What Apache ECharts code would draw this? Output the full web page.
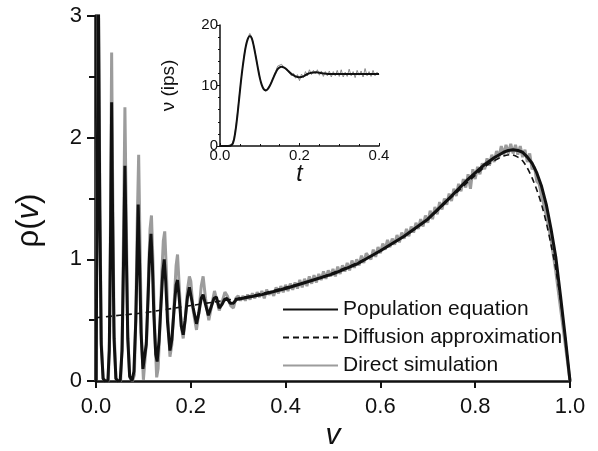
<!DOCTYPE html>
<html>
<head>
<meta charset="utf-8">
<script src="https://cdn.jsdelivr.net/npm/echarts@6/dist/echarts.min.js"></script>
<style>
html, body { margin: 0; padding: 0; background: #fff; }
#chart { width: 598px; height: 451px; }
</style>
</head>
<body>
<div id="chart"></div>
<script>
// main panel: density rho(v)
const populationEq = [
  [0.000, 0.00], [0.002, 1.20], [0.005, 3.20], [0.008, 1.40], [0.011, 0.30], [0.015, 0.02], [0.019, 0.00],
  [0.025, 0.00], [0.028, 0.25], [0.031, 1.30], [0.033, 2.29], [0.035, 1.35], [0.038, 0.35], [0.042, 0.02], [0.046, 0.00],
  [0.051, 0.00], [0.055, 0.25], [0.058, 0.95], [0.061, 1.77], [0.064, 1.05], [0.067, 0.35], [0.071, 0.04], [0.076, 0.00],
  [0.080, 0.08], [0.084, 0.50], [0.087, 1.05], [0.089, 1.45], [0.092, 0.95], [0.095, 0.40], [0.099, 0.10], [0.102, 0.09],
  [0.106, 0.30], [0.110, 0.70], [0.113, 1.05], [0.116, 1.21], [0.119, 0.95], [0.122, 0.55], [0.126, 0.22], [0.129, 0.16],
  [0.133, 0.33], [0.137, 0.62], [0.141, 0.90], [0.144, 1.00], [0.147, 0.82], [0.151, 0.48], [0.156, 0.25], [0.160, 0.34],
  [0.165, 0.60], [0.169, 0.79], [0.172, 0.83], [0.176, 0.66], [0.180, 0.45], [0.184, 0.38], [0.188, 0.50],
  [0.193, 0.69], [0.197, 0.77], [0.200, 0.76], [0.205, 0.60], [0.212, 0.47], [0.217, 0.56], [0.222, 0.68], [0.226, 0.71],
  [0.231, 0.63], [0.237, 0.54], [0.243, 0.61], [0.249, 0.68], [0.254, 0.69], [0.260, 0.60], [0.266, 0.63], [0.271, 0.67],
  [0.276, 0.68], [0.283, 0.64], [0.290, 0.64], [0.296, 0.67], [0.30, 0.67], [0.35, 0.71], [0.40, 0.76], [0.45, 0.82],
  [0.50, 0.88], [0.55, 0.96], [0.60, 1.07], [0.65, 1.19], [0.70, 1.33], [0.75, 1.52], [0.78, 1.64], [0.80, 1.71],
  [0.82, 1.78], [0.84, 1.835], [0.86, 1.88], [0.87, 1.895], [0.88, 1.90], [0.89, 1.895], [0.90, 1.88], [0.91, 1.84],
  [0.92, 1.79], [0.93, 1.71], [0.94, 1.60], [0.95, 1.45], [0.96, 1.25], [0.97, 1.02], [0.98, 0.70], [0.99, 0.36], [1.00, 0.00]
];

const diffusionApprox = [
  [0.00, 0.52], [0.05, 0.54], [0.10, 0.56], [0.15, 0.59], [0.20, 0.62], [0.25, 0.65], [0.30, 0.68], [0.35, 0.72],
  [0.40, 0.77], [0.45, 0.82], [0.50, 0.89], [0.55, 0.97], [0.60, 1.07], [0.65, 1.19], [0.70, 1.33], [0.75, 1.51],
  [0.78, 1.62], [0.80, 1.69], [0.82, 1.76], [0.84, 1.81], [0.86, 1.85], [0.875, 1.86], [0.89, 1.84], [0.90, 1.81],
  [0.91, 1.75], [0.92, 1.67], [0.93, 1.57], [0.94, 1.45], [0.95, 1.30], [0.96, 1.12], [0.97, 0.92], [0.98, 0.66],
  [0.99, 0.36], [1.00, 0.00]
];

const directSim = [
  [0.000, 0.00], [0.002, 1.50], [0.005, 3.30], [0.008, 1.60], [0.011, 0.35], [0.015, 0.02], [0.020, 0.00],
  [0.026, 0.00], [0.029, 0.40], [0.031, 1.60], [0.033, 2.70], [0.035, 1.70], [0.038, 0.45], [0.042, 0.02], [0.047, 0.00],
  [0.052, 0.00], [0.055, 0.30], [0.058, 1.20], [0.061, 2.25], [0.064, 1.30], [0.067, 0.40], [0.071, 0.03], [0.077, 0.00],
  [0.081, 0.05], [0.084, 0.55], [0.087, 1.30], [0.090, 1.86], [0.093, 1.10], [0.096, 0.35], [0.100, 0.01], [0.103, 0.02],
  [0.107, 0.35], [0.111, 0.90], [0.114, 1.25], [0.117, 1.36], [0.120, 1.00], [0.124, 0.40], [0.128, 0.03], [0.131, 0.10],
  [0.135, 0.45], [0.139, 0.90], [0.142, 1.15], [0.145, 1.23], [0.148, 0.95], [0.152, 0.50], [0.156, 0.20], [0.160, 0.30],
  [0.165, 0.65], [0.169, 0.95], [0.172, 1.04], [0.176, 0.75], [0.180, 0.45], [0.184, 0.35], [0.188, 0.50],
  [0.193, 0.75], [0.197, 0.86], [0.200, 0.82], [0.205, 0.58], [0.212, 0.42], [0.217, 0.56], [0.222, 0.78], [0.226, 0.86],
  [0.231, 0.68], [0.238, 0.50], [0.244, 0.62], [0.250, 0.74], [0.254, 0.75], [0.260, 0.58], [0.266, 0.65], [0.272, 0.73],
  [0.277, 0.70], [0.284, 0.62], [0.290, 0.60], [0.295, 0.68], [0.300, 0.70],
  [0.305, 0.66], [0.31, 0.70], [0.315, 0.66], [0.32, 0.71], [0.325, 0.67], [0.33, 0.72], [0.335, 0.68], [0.34, 0.73],
  [0.345, 0.69], [0.35, 0.74], [0.355, 0.68], [0.36, 0.75], [0.365, 0.71], [0.37, 0.74], [0.375, 0.70], [0.38, 0.77],
  [0.385, 0.72], [0.39, 0.78], [0.395, 0.73], [0.40, 0.79], [0.405, 0.74], [0.41, 0.80], [0.415, 0.75], [0.42, 0.81],
  [0.425, 0.76], [0.43, 0.83], [0.435, 0.77], [0.44, 0.84], [0.445, 0.78], [0.45, 0.86], [0.455, 0.80], [0.46, 0.87],
  [0.465, 0.81], [0.47, 0.88], [0.475, 0.83], [0.48, 0.90], [0.485, 0.84], [0.49, 0.91], [0.495, 0.86], [0.50, 0.92],
  [0.505, 0.86], [0.51, 0.94], [0.515, 0.88], [0.52, 0.95], [0.525, 0.90], [0.53, 0.97], [0.535, 0.91], [0.54, 0.99],
  [0.545, 0.93], [0.55, 1.00], [0.555, 0.95], [0.56, 1.03], [0.565, 0.97], [0.57, 1.05], [0.58, 1.00], [0.585, 1.08],
  [0.59, 1.02], [0.595, 1.10], [0.60, 1.05], [0.605, 1.13], [0.61, 1.08], [0.615, 1.16], [0.62, 1.10], [0.625, 1.17],
  [0.63, 1.12], [0.635, 1.20], [0.64, 1.14], [0.645, 1.22], [0.65, 1.17], [0.655, 1.25], [0.66, 1.19], [0.665, 1.27],
  [0.67, 1.22], [0.675, 1.30], [0.68, 1.25], [0.685, 1.33], [0.69, 1.27], [0.695, 1.36], [0.70, 1.30], [0.705, 1.40],
  [0.71, 1.33], [0.715, 1.43], [0.72, 1.37], [0.725, 1.47], [0.73, 1.41], [0.735, 1.50], [0.74, 1.45], [0.745, 1.54],
  [0.75, 1.48], [0.755, 1.58], [0.76, 1.52], [0.765, 1.62], [0.77, 1.56], [0.775, 1.66], [0.78, 1.59], [0.785, 1.70],
  [0.79, 1.58], [0.795, 1.74], [0.80, 1.66], [0.805, 1.76], [0.81, 1.70], [0.815, 1.79], [0.82, 1.74], [0.825, 1.83],
  [0.83, 1.77], [0.835, 1.86], [0.84, 1.80], [0.845, 1.89], [0.85, 1.84], [0.855, 1.93], [0.86, 1.86], [0.865, 1.94],
  [0.87, 1.87], [0.875, 1.95], [0.88, 1.87], [0.885, 1.94], [0.89, 1.86], [0.895, 1.93], [0.90, 1.84], [0.905, 1.90],
  [0.91, 1.80], [0.915, 1.87], [0.92, 1.74], [0.925, 1.76], [0.93, 1.64], [0.935, 1.62], [0.94, 1.52], [0.945, 1.45],
  [0.95, 1.36], [0.955, 1.27], [0.96, 1.16], [0.97, 0.90], [0.98, 0.60], [0.99, 0.30], [1.00, 0.00]
];

// inset: firing rate nu(t)
const insetPopulation = [
  [0.000, 0.0], [0.020, 0.0], [0.030, 0.2], [0.035, 1.0], [0.040, 3.0], [0.045, 5.8], [0.050, 9.0], [0.055, 12.0],
  [0.060, 14.5], [0.065, 16.5], [0.070, 17.7], [0.075, 18.2], [0.080, 17.8], [0.085, 16.5], [0.090, 14.8], [0.095, 13.0],
  [0.100, 11.3], [0.105, 10.1], [0.110, 9.4], [0.115, 9.2], [0.120, 9.4], [0.125, 9.9], [0.130, 10.6], [0.135, 11.4],
  [0.140, 12.1], [0.145, 12.7], [0.150, 13.0], [0.155, 13.1], [0.160, 13.0], [0.165, 12.8], [0.170, 12.5], [0.175, 12.2],
  [0.180, 11.9], [0.185, 11.7], [0.190, 11.5], [0.195, 11.4], [0.200, 11.35], [0.210, 11.5], [0.220, 11.9], [0.230, 12.1],
  [0.240, 12.2], [0.250, 12.1], [0.260, 12.0], [0.280, 11.9], [0.300, 11.9], [0.330, 11.9], [0.360, 11.9], [0.400, 11.9]
];

const insetSimulation = [
  [0.000, 0.0], [0.020, 0.0], [0.030, 0.3], [0.035, 1.2], [0.040, 3.2], [0.045, 6.0], [0.050, 9.2], [0.055, 12.0],
  [0.060, 14.7], [0.065, 16.6], [0.070, 17.9], [0.075, 18.6], [0.080, 17.9], [0.085, 16.6], [0.090, 14.9], [0.095, 13.0],
  [0.100, 11.4], [0.105, 10.0], [0.110, 9.4], [0.115, 9.0], [0.120, 9.5], [0.125, 10.0], [0.130, 10.7], [0.135, 11.5],
  [0.140, 12.3], [0.145, 13.2], [0.150, 13.3], [0.155, 13.5], [0.160, 13.1], [0.165, 13.0], [0.170, 12.4], [0.175, 12.3],
  [0.180, 11.6], [0.185, 12.0], [0.190, 11.2], [0.195, 11.8], [0.200, 10.8], [0.205, 11.9], [0.210, 11.3], [0.215, 12.3],
  [0.220, 11.6], [0.225, 12.6], [0.230, 11.8], [0.235, 12.5], [0.240, 11.9], [0.245, 12.6], [0.250, 11.7], [0.255, 12.4],
  [0.260, 11.5], [0.265, 12.3], [0.270, 11.6], [0.275, 12.4], [0.280, 11.4], [0.285, 12.3], [0.290, 11.6], [0.295, 12.5],
  [0.300, 11.5], [0.305, 12.6], [0.310, 11.4], [0.315, 12.2], [0.320, 11.5], [0.325, 12.7], [0.330, 11.6], [0.335, 12.3],
  [0.340, 11.3], [0.345, 12.5], [0.350, 11.7], [0.355, 12.4], [0.360, 11.4], [0.365, 12.8], [0.370, 11.6], [0.375, 12.3],
  [0.380, 11.5], [0.385, 12.5], [0.390, 11.6], [0.395, 12.2], [0.400, 11.8]
];

const legendNames = ['Population equation', 'Diffusion approximation', 'Direct simulation'];

const font = 'Liberation Sans, Arial, sans-serif';
const ink = '#111';
const grey = '#9c9c9c';

const chart = echarts.init(document.getElementById('chart'));
chart.setOption({
  animation: false,
  backgroundColor: '#fff',
  textStyle: { fontFamily: font, color: ink },
  legend: {
    data: legendNames,
    orient: 'vertical',
    left: 282,
    top: 299,
    padding: 0,
    itemWidth: 55,
    itemHeight: 14,
    itemGap: 7,
    // hide the marker dot, keep only the line sample
    itemStyle: { color: 'transparent', borderColor: 'transparent', opacity: 0 },
    textStyle: { fontSize: 21, color: ink, fontFamily: font },
    selectedMode: false
  },
  grid: [
    { left: 96, right: 28, top: 16, bottom: 70, outerBoundsMode: 'none' },
    { left: 220, right: 219, top: 25, bottom: 305, outerBoundsMode: 'none' }
  ],
  xAxis: [
    {
      type: 'value', gridIndex: 0, min: 0, max: 1, interval: 0.2,
      name: 'v', nameLocation: 'middle', nameGap: 40, nameMoveOverlap: false,
      nameTextStyle: { fontSize: 30, fontStyle: 'italic', color: ink, fontFamily: font },
      axisLine: { lineStyle: { color: ink, width: 2.5 } },
      axisTick: { inside: false, length: 7, lineStyle: { width: 2, color: ink } },
      axisLabel: { fontSize: 22, color: ink, margin: 15, formatter: v => v.toFixed(1) },
      splitLine: { show: false }
    },
    {
      type: 'value', gridIndex: 1, min: 0, max: 0.4, interval: 0.2,
      name: 't', nameLocation: 'middle', nameGap: 17, nameMoveOverlap: false,
      nameTextStyle: { fontSize: 23, fontStyle: 'italic', color: ink, fontFamily: font },
      axisLine: { lineStyle: { color: ink, width: 1.5 } },
      axisTick: { inside: true, length: 3, lineStyle: { width: 1, color: ink } },
      minorTick: { show: true, splitNumber: 4, length: 2, lineStyle: { color: ink } },
      axisLabel: { fontSize: 15, color: ink, margin: 2, formatter: v => v.toFixed(1) },
      splitLine: { show: false }
    }
  ],
  yAxis: [
    {
      type: 'value', gridIndex: 0, min: 0, max: 3, interval: 1,
      name: '{a|ρ(}{b|v}{a|)}', nameLocation: 'middle', nameGap: 51, nameMoveOverlap: false,
      nameTextStyle: {
        padding: [0, 44, 0, 0],
        rich: {
          a: { fontSize: 31, color: ink, fontFamily: font },
          b: { fontSize: 31, color: ink, fontFamily: font, fontStyle: 'italic' }
        }
      },
      axisLine: { lineStyle: { color: ink, width: 3.5 } },
      axisTick: { inside: false, length: 9, lineStyle: { width: 2, color: ink } },
      minorTick: { show: true, splitNumber: 2, length: 7, lineStyle: { width: 2, color: ink } },
      axisLabel: { fontSize: 22, color: ink, margin: 14 },
      splitLine: { show: false },
      minorSplitLine: { show: false }
    },
    {
      type: 'value', gridIndex: 1, min: 0, max: 20, interval: 10,
      name: 'ν (ips)', nameLocation: 'middle', nameGap: 42, nameMoveOverlap: false,
      nameTextStyle: { fontSize: 19, color: ink, fontFamily: font },
      axisLine: { lineStyle: { color: ink, width: 1.5 } },
      axisTick: { inside: false, length: 3, lineStyle: { width: 1, color: ink } },
      minorTick: { show: true, splitNumber: 5, length: 2, lineStyle: { color: ink } },
      axisLabel: { fontSize: 15, color: ink, margin: 2 },
      splitLine: { show: false }
    }
  ],
  series: [
    {
      name: 'Direct simulation', type: 'line', xAxisIndex: 0, yAxisIndex: 0,
      data: directSim, showSymbol: false, symbol: 'none',
      lineStyle: { color: grey, width: 3 }, itemStyle: { color: grey }, z: 2
    },
    {
      name: 'Diffusion approximation', type: 'line', xAxisIndex: 0, yAxisIndex: 0,
      data: diffusionApprox, showSymbol: false, symbol: 'none', smooth: 0.3,
      lineStyle: { color: ink, width: 1.6, type: [6, 4] }, itemStyle: { color: ink }, z: 3
    },
    {
      name: 'Population equation', type: 'line', xAxisIndex: 0, yAxisIndex: 0,
      data: populationEq, showSymbol: false, symbol: 'none',
      lineStyle: { color: ink, width: 3 }, itemStyle: { color: ink }, z: 4
    },
    {
      name: 'inset simulation', type: 'line', xAxisIndex: 1, yAxisIndex: 1,
      data: insetSimulation, showSymbol: false, symbol: 'none',
      lineStyle: { color: '#8a8a8a', width: 1 }, z: 2
    },
    {
      name: 'inset population', type: 'line', xAxisIndex: 1, yAxisIndex: 1,
      data: insetPopulation, showSymbol: false, symbol: 'none', smooth: 0.3,
      lineStyle: { color: ink, width: 2 }, z: 3
    }
  ]
});
</script>
</body>
</html>
